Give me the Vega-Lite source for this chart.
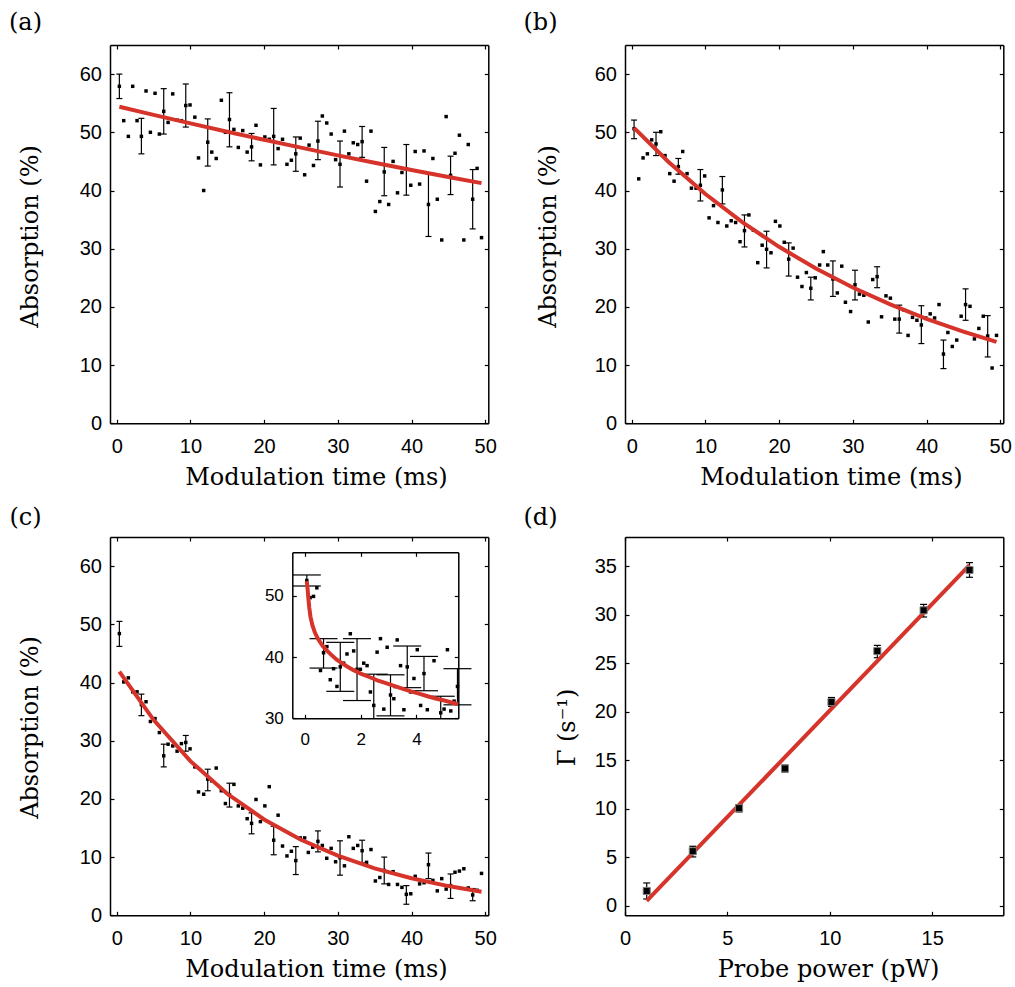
{
"$schema": "https://vega.github.io/schema/vega-lite/v6.json",
"width": 1015, "height": 987, "autosize": "none", "padding": 0, "background": "white",
"config": {
 "view": {"stroke": null},
 "axis": {"grid": false, "domainColor": "black", "tickColor": "black", "labelColor": "black", "titleColor": "black", "labelFont": "Liberation Sans", "labelFontSize": 20, "titleFont": "DejaVu Serif", "titleFontSize": 24, "titleFontWeight": "normal", "tickSize": -4, "domainWidth": 1.5, "tickWidth": 1.2, "labelFlush": false, "labelOverlap": false},
 "axisX": {"labelPadding": 17.3},
 "axisY": {"labelPadding": 12.5}
},
"resolve": {"scale": {"x": "independent", "y": "independent"}, "axis": {"x": "independent", "y": "independent"}},
"datasets": {
 "a": [
  {"t":0.36,"v":57.9,"lo":55.8,"hi":60.0},{"t":0.95,"v":52.0},{"t":1.58,"v":49.3},{"t":2.17,"v":57.9},{"t":2.76,"v":52.0},
  {"t":3.35,"v":49.3,"lo":46.3,"hi":52.4},{"t":3.98,"v":57.1},{"t":4.57,"v":50.0},{"t":5.2,"v":56.7},{"t":5.79,"v":49.7},
  {"t":6.38,"v":53.6,"lo":49.7,"hi":57.5},{"t":6.97,"v":51.7},{"t":7.6,"v":56.6},{"t":8.19,"v":52.1},{"t":8.78,"v":52.0},
  {"t":9.37,"v":54.6,"lo":50.9,"hi":58.3},{"t":9.95,"v":54.7},{"t":10.6,"v":52.6},{"t":11.1,"v":45.6},{"t":11.8,"v":40.0},
  {"t":12.35,"v":48.3,"lo":44.2,"hi":52.3},{"t":12.9,"v":46.6},{"t":13.5,"v":45.5},{"t":14.2,"v":55.5},{"t":14.75,"v":50.0},
  {"t":15.3,"v":52.2,"lo":47.5,"hi":56.8},{"t":15.9,"v":50.5},{"t":16.5,"v":47.4},{"t":17.1,"v":50.3},{"t":17.7,"v":46.6},
  {"t":18.3,"v":47.5,"lo":45.1,"hi":49.8},{"t":18.9,"v":51.2},{"t":19.5,"v":44.4},{"t":20.1,"v":49.2},{"t":20.7,"v":48.8},
  {"t":21.3,"v":49.3,"lo":44.4,"hi":54.1},{"t":21.9,"v":47.2},{"t":22.5,"v":48.8},{"t":23.1,"v":44.5},{"t":23.7,"v":45.2},
  {"t":24.3,"v":46.3,"lo":43.3,"hi":49.2},{"t":24.9,"v":49.0},{"t":25.5,"v":42.7},{"t":26.1,"v":47.8},{"t":26.7,"v":44.3},
  {"t":27.3,"v":48.5,"lo":45.3,"hi":51.9},{"t":27.9,"v":52.8},{"t":28.5,"v":51.6},{"t":29.1,"v":49.7},{"t":29.7,"v":45.3},
  {"t":30.3,"v":44.5,"lo":40.6,"hi":48.5},{"t":30.9,"v":50.2},{"t":31.5,"v":46.3},{"t":32.1,"v":48.2},{"t":32.7,"v":47.9},
  {"t":33.3,"v":48.4,"lo":45.7,"hi":51.0},{"t":33.9,"v":41.6},{"t":34.5,"v":50.2},{"t":35.1,"v":36.4},{"t":35.7,"v":38.1},
  {"t":36.3,"v":43.2,"lo":39.1,"hi":47.4},{"t":36.9,"v":37.6},{"t":37.5,"v":45.0},{"t":38.1,"v":39.6},{"t":38.7,"v":43.1},
  {"t":39.3,"v":43.7,"lo":39.2,"hi":47.9},{"t":39.9,"v":40.9},{"t":40.5,"v":46.7},{"t":41.1,"v":41.1},{"t":41.7,"v":46.8},
  {"t":42.3,"v":37.6,"lo":32.1,"hi":42.9},{"t":42.9,"v":45.5},{"t":43.5,"v":38.5},{"t":44.1,"v":31.5},{"t":44.7,"v":52.7},
  {"t":45.3,"v":42.6,"lo":39.3,"hi":45.9},{"t":45.9,"v":46.4},{"t":46.5,"v":49.5},{"t":47.1,"v":31.5},{"t":47.7,"v":47.9},
  {"t":48.3,"v":38.5,"lo":33.4,"hi":43.6},{"t":48.9,"v":43.8},{"t":49.5,"v":31.9}
 ],
 "afit": [{"t":0.36,"v":54.39},{"t":5,"v":52.99},{"t":10,"v":51.53},{"t":15,"v":50.10},{"t":20,"v":48.71},{"t":25,"v":47.36},{"t":30,"v":46.04},{"t":35,"v":44.77},{"t":40,"v":43.53},{"t":45,"v":42.32},{"t":49.5,"v":41.27}],
 "b": [
  {"t":0.32,"v":50.6,"lo":48.9,"hi":52.1},{"t":0.95,"v":42.0},{"t":1.54,"v":45.6},{"t":2.13,"v":46.3},{"t":2.71,"v":48.7},
  {"t":3.3,"v":48.0,"lo":46.0,"hi":50.0},{"t":3.94,"v":50.1},{"t":4.52,"v":46.0},{"t":5.16,"v":42.9},{"t":5.75,"v":41.6},
  {"t":6.33,"v":44.1,"lo":42.8,"hi":45.5},{"t":6.92,"v":46.7},{"t":7.51,"v":42.9},{"t":8.1,"v":40.4},{"t":8.73,"v":40.4},
  {"t":9.32,"v":40.9,"lo":38.2,"hi":43.6},{"t":9.9,"v":42.5},{"t":10.5,"v":35.3},{"t":11.1,"v":37.4},{"t":11.7,"v":34.5},
  {"t":12.3,"v":40.1,"lo":37.7,"hi":42.4},{"t":12.9,"v":33.9},{"t":13.5,"v":34.8},{"t":14.1,"v":34.5},{"t":14.7,"v":31.2},
  {"t":15.3,"v":33.1,"lo":30.3,"hi":35.8},{"t":15.9,"v":35.8},{"t":16.5,"v":33.2},{"t":17.1,"v":27.6},{"t":17.7,"v":30.6},
  {"t":18.3,"v":29.9,"lo":26.7,"hi":33.0},{"t":18.9,"v":29.3},{"t":19.5,"v":34.7},{"t":20.1,"v":33.9},{"t":20.7,"v":31.1},
  {"t":21.3,"v":28.2,"lo":25.3,"hi":31.0},{"t":21.9,"v":30.1},{"t":22.5,"v":25.1},{"t":23.1,"v":23.5},{"t":23.7,"v":25.9},
  {"t":24.3,"v":23.2,"lo":21.2,"hi":25.1},{"t":24.9,"v":25.0},{"t":25.5,"v":27.2},{"t":26.0,"v":29.5},{"t":26.6,"v":27.2},
  {"t":27.3,"v":24.8,"lo":21.8,"hi":27.9},{"t":27.9,"v":22.4},{"t":28.5,"v":27.0},{"t":29.0,"v":20.8},{"t":29.7,"v":19.2},
  {"t":30.3,"v":23.8,"lo":21.2,"hi":26.3},{"t":30.9,"v":22.2},{"t":31.5,"v":22.0},{"t":32.1,"v":17.4},{"t":32.7,"v":24.7},
  {"t":33.3,"v":25.2,"lo":23.3,"hi":26.9},{"t":33.9,"v":18.3},{"t":34.5,"v":21.9},{"t":35.1,"v":21.5},{"t":35.7,"v":17.9},
  {"t":36.3,"v":17.9,"lo":15.5,"hi":20.3},{"t":36.9,"v":19.5},{"t":37.5,"v":15.1},{"t":38.1,"v":18.2},{"t":38.7,"v":17.7},
  {"t":39.3,"v":16.9,"lo":13.7,"hi":20.2},{"t":39.9,"v":18.1},{"t":40.5,"v":18.8},{"t":41.1,"v":18.1},{"t":41.7,"v":20.4},
  {"t":42.3,"v":11.9,"lo":9.4,"hi":14.3},{"t":42.9,"v":15.6},{"t":43.5,"v":13.2},{"t":44.1,"v":14.3},{"t":44.7,"v":18.4},
  {"t":45.3,"v":20.4,"lo":17.7,"hi":23.1},{"t":45.9,"v":20.1},{"t":46.5,"v":14.5},{"t":47.1,"v":16.3},{"t":47.7,"v":18.4},
  {"t":48.3,"v":15.0,"lo":11.4,"hi":18.5},{"t":48.9,"v":9.5},{"t":49.5,"v":15.1}
 ],
 "bfit": [{"t":0.32,"v":50.77},{"t":5,"v":44.91},{"t":10,"v":39.40},{"t":15,"v":34.56},{"t":20,"v":30.32},{"t":25,"v":26.59},{"t":30,"v":23.33},{"t":35,"v":20.47},{"t":40,"v":17.95},{"t":45,"v":15.75},{"t":49.5,"v":14.00}],
 "c": [
  {"t":0.36,"v":48.4,"lo":46.2,"hi":50.5},{"t":0.95,"v":40.1},{"t":1.58,"v":40.8},{"t":2.17,"v":38.4},{"t":2.76,"v":38.4},
  {"t":3.35,"v":36.2,"lo":34.3,"hi":38.0},{"t":3.98,"v":36.7},{"t":4.57,"v":33.3},{"t":5.2,"v":33.8},{"t":5.79,"v":31.4},
  {"t":6.38,"v":27.4,"lo":25.5,"hi":29.4},{"t":6.97,"v":29.4},{"t":7.6,"v":29.1},{"t":8.19,"v":28.2},{"t":8.78,"v":29.5},
  {"t":9.37,"v":29.7,"lo":28.2,"hi":30.9},{"t":9.95,"v":28.6},{"t":10.6,"v":25.5},{"t":11.1,"v":21.2},{"t":11.8,"v":20.8},
  {"t":12.35,"v":23.4,"lo":21.4,"hi":25.1},{"t":12.9,"v":23.1},{"t":13.5,"v":25.3},{"t":14.2,"v":21.4},{"t":14.75,"v":19.2},
  {"t":15.3,"v":20.7,"lo":18.6,"hi":22.7},{"t":15.9,"v":22.5},{"t":16.5,"v":18.8},{"t":17.1,"v":18.4},{"t":17.7,"v":16.6},
  {"t":18.3,"v":15.8,"lo":14.0,"hi":17.6},{"t":18.9,"v":19.9},{"t":19.5,"v":16.1},{"t":20.1,"v":18.8},{"t":20.7,"v":22.1},
  {"t":21.3,"v":12.9,"lo":10.4,"hi":15.3},{"t":21.9,"v":17.2},{"t":22.5,"v":11.9},{"t":23.1,"v":10.2},{"t":23.7,"v":11.0},
  {"t":24.3,"v":9.4,"lo":7.0,"hi":11.8},{"t":24.9,"v":13.3},{"t":25.5,"v":13.3},{"t":26.0,"v":10.8},{"t":26.6,"v":11.7},
  {"t":27.3,"v":12.7,"lo":10.9,"hi":14.5},{"t":27.9,"v":12.0},{"t":28.5,"v":9.8},{"t":29.1,"v":11.5},{"t":29.7,"v":9.2},
  {"t":30.3,"v":9.9,"lo":6.9,"hi":12.8},{"t":30.9,"v":8.5},{"t":31.5,"v":13.5},{"t":32.1,"v":11.5},{"t":32.7,"v":12.0},
  {"t":33.3,"v":11.1,"lo":9.0,"hi":12.9},{"t":33.9,"v":9.1},{"t":34.5,"v":11.3},{"t":35.1,"v":5.9},{"t":35.7,"v":6.5},
  {"t":36.3,"v":7.7,"lo":5.4,"hi":10.0},{"t":36.9,"v":5.3},{"t":37.5,"v":7.5},{"t":38.1,"v":5.3},{"t":38.7,"v":4.8},
  {"t":39.3,"v":3.6,"lo":1.9,"hi":5.1},{"t":39.9,"v":3.7},{"t":40.5,"v":6.7},{"t":41.1,"v":5.4},{"t":41.7,"v":5.6},
  {"t":42.3,"v":8.7,"lo":6.3,"hi":10.7},{"t":42.9,"v":6.0},{"t":43.5,"v":4.2},{"t":44.1,"v":6.3},{"t":44.7,"v":4.5},
  {"t":45.3,"v":5.1,"lo":2.9,"hi":7.1},{"t":45.9,"v":7.4},{"t":46.5,"v":7.6},{"t":47.1,"v":8.0},{"t":47.7,"v":4.7},
  {"t":48.3,"v":3.5,"lo":2.5,"hi":4.6},{"t":48.9,"v":4.3},{"t":49.5,"v":7.2}
 ],
 "cfit": [{"t":0.36,"v":41.88},{"t":5,"v":33.59},{"t":10,"v":26.49},{"t":15,"v":20.88},{"t":20,"v":16.47},{"t":25,"v":12.98},{"t":30,"v":10.24},{"t":35,"v":8.07},{"t":40,"v":6.36},{"t":45,"v":5.02},{"t":49.5,"v":4.05}],
 "ins": [
  {"t":0.07,"v":52.5,"lo":51.6,"hi":53.4},{"t":0.19,"v":49.7},{"t":0.31,"v":49.9},{"t":0.43,"v":51.3},{"t":0.56,"v":37.8},
  {"t":0.67,"v":40.7,"lo":38.2,"hi":43.0},{"t":0.79,"v":41.7},{"t":0.91,"v":36.3},{"t":1.03,"v":38.1},{"t":1.15,"v":35.2},
  {"t":1.27,"v":38.4,"lo":34.4,"hi":42.4},{"t":1.39,"v":39.0},{"t":1.51,"v":40.5},{"t":1.63,"v":43.8},{"t":1.75,"v":41.0},
  {"t":1.87,"v":38.0,"lo":32.9,"hi":43.0},{"t":1.99,"v":38.0},{"t":2.11,"v":39.0},{"t":2.23,"v":38.6},{"t":2.35,"v":34.3},
  {"t":2.47,"v":32.1,"lo":27.0,"hi":37.2},{"t":2.59,"v":40.8},{"t":2.71,"v":43.0},{"t":2.83,"v":31.5},{"t":2.95,"v":41.6},
  {"t":3.07,"v":33.8,"lo":30.4,"hi":37.1},{"t":3.19,"v":33.2},{"t":3.31,"v":42.8},{"t":3.43,"v":38.6},{"t":3.55,"v":31.4},
  {"t":3.67,"v":38.4,"lo":35.0,"hi":41.8},{"t":3.79,"v":34.3},{"t":3.91,"v":36.5},{"t":4.03,"v":41.2},{"t":4.15,"v":32.1},
  {"t":4.27,"v":37.3,"lo":34.5,"hi":40.1},{"t":4.39,"v":31.4},{"t":4.63,"v":39.4},
  {"t":4.87,"v":30.9,"lo":28.0,"hi":33.6},{"t":4.99,"v":31.5},{"t":5.11,"v":41.2},{"t":5.23,"v":31.2},{"t":5.35,"v":32.8},
  {"t":5.47,"v":35.2,"lo":32.2,"hi":38.1}
 ],
 "insfit": [{"t":0.07,"v":52.4},{"t":0.1,"v":51.0},{"t":0.13,"v":49.4},{"t":0.16,"v":48.0},{"t":0.2,"v":46.6},{"t":0.27,"v":45.2},{"t":0.36,"v":44.0},{"t":0.48,"v":42.9},{"t":0.64,"v":41.8},{"t":0.8,"v":41.0},{"t":0.94,"v":40.4},{"t":1.13,"v":39.6},{"t":1.3,"v":39.1},{"t":1.5,"v":38.5},{"t":1.73,"v":37.9},{"t":2.0,"v":37.3},{"t":2.33,"v":36.7},{"t":2.6,"v":36.2},{"t":2.93,"v":35.7},{"t":3.2,"v":35.3},{"t":3.52,"v":34.8},{"t":3.8,"v":34.4},{"t":4.12,"v":34.0},{"t":4.4,"v":33.6},{"t":4.72,"v":33.2},{"t":5.0,"v":32.9},{"t":5.49,"v":32.3}],
 "d": [
  {"t":1.06,"v":1.55,"lo":0.72,"hi":2.37},{"t":3.31,"v":5.64,"lo":5.05,"hi":6.15},{"t":5.57,"v":10.07,"lo":9.69,"hi":10.44},{"t":7.81,"v":14.16,"lo":13.8,"hi":14.5},
  {"t":10.08,"v":21.0,"lo":20.55,"hi":21.47},{"t":12.32,"v":26.25,"lo":25.57,"hi":26.84},{"t":14.58,"v":30.45,"lo":29.76,"hi":31.06},{"t":16.82,"v":34.6,"lo":33.85,"hi":35.36}
 ],
 "dfit": [{"t":1.06,"v":0.52},{"t":16.82,"v":35.1}]
},
"layer": [
 {"data": {"name": "a"}, "transform": [{"filter": "isValid(datum.hi)"}], "mark": {"type": "rule", "color": "black", "strokeWidth": 1.2},
  "encoding": {"x": {"field": "t", "type": "quantitative", "scale": {"domain": [-0.91, 50.42], "range": [110, 488.3], "nice": false, "zero": false}, "axis": {"orient": "top", "offset": -45, "values": [0,10,20,30,40,50], "labels": false, "title": "(a)", "titleX": 25, "titleY": -23, "titleAlign": "center", "titleBaseline": "middle", "titleAngle": 0}},
   "y": {"field": "lo", "type": "quantitative", "scale": {"domain": [0, 65], "range": [423.3, 45], "nice": false, "zero": false}, "axis": {"orient": "right", "offset": -526.7, "values": [0,10,20,30,40,50,60], "labels": false, "title": null}},
   "y2": {"field": "hi"}}},
 {"data": {"name": "a"}, "transform": [{"filter": "isValid(datum.hi)"}], "mark": {"type": "tick", "orient": "horizontal", "size": 6, "thickness": 1.2, "color": "black", "opacity": 1},
  "encoding": {"x": {"field": "t", "type": "quantitative", "scale": {"domain": [-0.91, 50.42], "range": [110, 488.3], "nice": false, "zero": false}, "axis": null},
   "y": {"field": "hi", "type": "quantitative", "scale": {"domain": [0, 65], "range": [423.3, 45], "nice": false, "zero": false}, "axis": null}}},
 {"data": {"name": "a"}, "transform": [{"filter": "isValid(datum.lo)"}], "mark": {"type": "tick", "orient": "horizontal", "size": 6, "thickness": 1.2, "color": "black", "opacity": 1},
  "encoding": {"x": {"field": "t", "type": "quantitative", "scale": {"domain": [-0.91, 50.42], "range": [110, 488.3], "nice": false, "zero": false}, "axis": null},
   "y": {"field": "lo", "type": "quantitative", "scale": {"domain": [0, 65], "range": [423.3, 45], "nice": false, "zero": false}, "axis": null}}},
 {"data": {"name": "a"}, "mark": {"type": "square", "size": 12, "color": "black", "opacity": 1},
  "encoding": {"x": {"field": "t", "type": "quantitative", "scale": {"domain": [-0.91, 50.42], "range": [110, 488.3], "nice": false, "zero": false}, "axis": {"orient": "bottom", "offset": -563.7, "values": [0,10,20,30,40,50], "title": "Modulation time (ms)", "titleX": 316, "titleY": 61, "titleAlign": "center", "titleBaseline": "alphabetic", "titleAngle": 0}},
   "y": {"field": "v", "type": "quantitative", "scale": {"domain": [0, 65], "range": [423.3, 45], "nice": false, "zero": false}, "axis": {"orient": "left", "offset": -110, "values": [0,10,20,30,40,50,60], "title": "Absorption (%)", "titleX": -80, "titleY": 236, "titleAngle": 270, "titleAlign": "center", "titleBaseline": "middle"}}}},
 {"data": {"name": "afit"}, "mark": {"type": "line", "color": "#d6332a", "strokeWidth": 4},
  "encoding": {"x": {"field": "t", "type": "quantitative", "scale": {"domain": [-0.91, 50.42], "range": [110, 488.3], "nice": false, "zero": false}, "axis": null},
   "y": {"field": "v", "type": "quantitative", "scale": {"domain": [0, 65], "range": [423.3, 45], "nice": false, "zero": false}, "axis": null}}},

 {"data": {"name": "b"}, "transform": [{"filter": "isValid(datum.hi)"}], "mark": {"type": "rule", "color": "black", "strokeWidth": 1.2},
  "encoding": {"x": {"field": "t", "type": "quantitative", "scale": {"domain": [-0.91, 50.42], "range": [625, 1003.3], "nice": false, "zero": false}, "axis": {"orient": "top", "offset": -45, "values": [0,10,20,30,40,50], "labels": false, "title": "(b)", "titleX": 540, "titleY": -23, "titleAlign": "center", "titleBaseline": "middle", "titleAngle": 0}},
   "y": {"field": "lo", "type": "quantitative", "scale": {"domain": [0, 65], "range": [423.3, 45], "nice": false, "zero": false}, "axis": {"orient": "right", "offset": -11.7, "values": [0,10,20,30,40,50,60], "labels": false, "title": null}},
   "y2": {"field": "hi"}}},
 {"data": {"name": "b"}, "transform": [{"filter": "isValid(datum.hi)"}], "mark": {"type": "tick", "orient": "horizontal", "size": 6, "thickness": 1.2, "color": "black", "opacity": 1},
  "encoding": {"x": {"field": "t", "type": "quantitative", "scale": {"domain": [-0.91, 50.42], "range": [625, 1003.3], "nice": false, "zero": false}, "axis": null},
   "y": {"field": "hi", "type": "quantitative", "scale": {"domain": [0, 65], "range": [423.3, 45], "nice": false, "zero": false}, "axis": null}}},
 {"data": {"name": "b"}, "transform": [{"filter": "isValid(datum.lo)"}], "mark": {"type": "tick", "orient": "horizontal", "size": 6, "thickness": 1.2, "color": "black", "opacity": 1},
  "encoding": {"x": {"field": "t", "type": "quantitative", "scale": {"domain": [-0.91, 50.42], "range": [625, 1003.3], "nice": false, "zero": false}, "axis": null},
   "y": {"field": "lo", "type": "quantitative", "scale": {"domain": [0, 65], "range": [423.3, 45], "nice": false, "zero": false}, "axis": null}}},
 {"data": {"name": "b"}, "mark": {"type": "square", "size": 12, "color": "black", "opacity": 1},
  "encoding": {"x": {"field": "t", "type": "quantitative", "scale": {"domain": [-0.91, 50.42], "range": [625, 1003.3], "nice": false, "zero": false}, "axis": {"orient": "bottom", "offset": -563.7, "values": [0,10,20,30,40,50], "title": "Modulation time (ms)", "titleX": 831, "titleY": 61, "titleAlign": "center", "titleBaseline": "alphabetic", "titleAngle": 0}},
   "y": {"field": "v", "type": "quantitative", "scale": {"domain": [0, 65], "range": [423.3, 45], "nice": false, "zero": false}, "axis": {"orient": "left", "offset": -625, "values": [0,10,20,30,40,50,60], "title": "Absorption (%)", "titleX": -77, "titleY": 236, "titleAngle": 270, "titleAlign": "center", "titleBaseline": "middle"}}}},
 {"data": {"name": "bfit"}, "mark": {"type": "line", "color": "#d6332a", "strokeWidth": 4},
  "encoding": {"x": {"field": "t", "type": "quantitative", "scale": {"domain": [-0.91, 50.42], "range": [625, 1003.3], "nice": false, "zero": false}, "axis": null},
   "y": {"field": "v", "type": "quantitative", "scale": {"domain": [0, 65], "range": [423.3, 45], "nice": false, "zero": false}, "axis": null}}},

 {"data": {"name": "c"}, "transform": [{"filter": "isValid(datum.hi)"}], "mark": {"type": "rule", "color": "black", "strokeWidth": 1.2},
  "encoding": {"x": {"field": "t", "type": "quantitative", "scale": {"domain": [-0.91, 50.42], "range": [110, 488.3], "nice": false, "zero": false}, "axis": {"orient": "top", "offset": -537, "values": [0,10,20,30,40,50], "labels": false, "title": "(c)", "titleX": 25, "titleY": -20, "titleAlign": "center", "titleBaseline": "middle", "titleAngle": 0}},
   "y": {"field": "lo", "type": "quantitative", "scale": {"domain": [0, 65], "range": [915.3, 537], "nice": false, "zero": false}, "axis": {"orient": "right", "offset": -526.7, "values": [0,10,20,30,40,50,60], "labels": false, "title": null}},
   "y2": {"field": "hi"}}},
 {"data": {"name": "c"}, "transform": [{"filter": "isValid(datum.hi)"}], "mark": {"type": "tick", "orient": "horizontal", "size": 6, "thickness": 1.2, "color": "black", "opacity": 1},
  "encoding": {"x": {"field": "t", "type": "quantitative", "scale": {"domain": [-0.91, 50.42], "range": [110, 488.3], "nice": false, "zero": false}, "axis": null},
   "y": {"field": "hi", "type": "quantitative", "scale": {"domain": [0, 65], "range": [915.3, 537], "nice": false, "zero": false}, "axis": null}}},
 {"data": {"name": "c"}, "transform": [{"filter": "isValid(datum.lo)"}], "mark": {"type": "tick", "orient": "horizontal", "size": 6, "thickness": 1.2, "color": "black", "opacity": 1},
  "encoding": {"x": {"field": "t", "type": "quantitative", "scale": {"domain": [-0.91, 50.42], "range": [110, 488.3], "nice": false, "zero": false}, "axis": null},
   "y": {"field": "lo", "type": "quantitative", "scale": {"domain": [0, 65], "range": [915.3, 537], "nice": false, "zero": false}, "axis": null}}},
 {"data": {"name": "c"}, "mark": {"type": "square", "size": 12, "color": "black", "opacity": 1},
  "encoding": {"x": {"field": "t", "type": "quantitative", "scale": {"domain": [-0.91, 50.42], "range": [110, 488.3], "nice": false, "zero": false}, "axis": {"orient": "bottom", "offset": -71.7, "values": [0,10,20,30,40,50], "title": "Modulation time (ms)", "titleX": 316, "titleY": 61, "titleAlign": "center", "titleBaseline": "alphabetic", "titleAngle": 0}},
   "y": {"field": "v", "type": "quantitative", "scale": {"domain": [0, 65], "range": [915.3, 537], "nice": false, "zero": false}, "axis": {"orient": "left", "offset": -110, "values": [0,10,20,30,40,50,60], "title": "Absorption (%)", "titleX": -80, "titleY": 727, "titleAngle": 270, "titleAlign": "center", "titleBaseline": "middle"}}}},
 {"data": {"name": "cfit"}, "mark": {"type": "line", "color": "#d6332a", "strokeWidth": 4},
  "encoding": {"x": {"field": "t", "type": "quantitative", "scale": {"domain": [-0.91, 50.42], "range": [110, 488.3], "nice": false, "zero": false}, "axis": null},
   "y": {"field": "v", "type": "quantitative", "scale": {"domain": [0, 65], "range": [915.3, 537], "nice": false, "zero": false}, "axis": null}}},

 {"data": {"name": "ins"}, "transform": [{"filter": "isValid(datum.hi)"}], "mark": {"type": "rule", "color": "black", "strokeWidth": 1.2},
  "encoding": {"x": {"field": "t", "type": "quantitative", "scale": {"domain": [-0.45, 5.5], "range": [292.3, 458.3], "nice": false, "zero": false}, "axis": {"orient": "top", "offset": -552.3, "values": [0,2,4], "labels": false, "title": null}},
   "y": {"field": "lo", "type": "quantitative", "scale": {"domain": [30, 57.1], "range": [718.3, 552.3], "nice": false, "zero": false, "clamp": true}, "axis": {"orient": "right", "offset": -556.7, "values": [30,40,50], "labels": false, "title": null}},
   "y2": {"field": "hi"}}},
 {"data": {"name": "ins"}, "transform": [{"filter": "isValid(datum.hi)"}], "mark": {"type": "tick", "orient": "horizontal", "size": 28, "thickness": 1.2, "color": "black", "opacity": 1},
  "encoding": {"x": {"field": "t", "type": "quantitative", "scale": {"domain": [-0.45, 5.5], "range": [292.3, 458.3], "nice": false, "zero": false}, "axis": null},
   "y": {"field": "hi", "type": "quantitative", "scale": {"domain": [30, 57.1], "range": [718.3, 552.3], "nice": false, "zero": false, "clamp": true}, "axis": null}}},
 {"data": {"name": "ins"}, "transform": [{"filter": "isValid(datum.lo) && datum.lo >= 30"}], "mark": {"type": "tick", "orient": "horizontal", "size": 28, "thickness": 1.2, "color": "black", "opacity": 1},
  "encoding": {"x": {"field": "t", "type": "quantitative", "scale": {"domain": [-0.45, 5.5], "range": [292.3, 458.3], "nice": false, "zero": false}, "axis": null},
   "y": {"field": "lo", "type": "quantitative", "scale": {"domain": [30, 57.1], "range": [718.3, 552.3], "nice": false, "zero": false, "clamp": true}, "axis": null}}},
 {"data": {"name": "ins"}, "mark": {"type": "square", "size": 12, "color": "black", "opacity": 1},
  "encoding": {"x": {"field": "t", "type": "quantitative", "scale": {"domain": [-0.45, 5.5], "range": [292.3, 458.3], "nice": false, "zero": false}, "axis": {"orient": "bottom", "offset": -268.7, "values": [0,2,4], "title": null, "labelFontSize": 17, "labelPadding": 17.5}},
   "y": {"field": "v", "type": "quantitative", "scale": {"domain": [30, 57.1], "range": [718.3, 552.3], "nice": false, "zero": false, "clamp": true}, "axis": {"orient": "left", "offset": -292.3, "values": [30,40,50], "title": null, "labelFontSize": 17, "labelPadding": 13}}}},
 {"data": {"name": "insfit"}, "mark": {"type": "line", "color": "#d6332a", "strokeWidth": 4},
  "encoding": {"x": {"field": "t", "type": "quantitative", "scale": {"domain": [-0.45, 5.5], "range": [292.3, 458.3], "nice": false, "zero": false}, "axis": null},
   "y": {"field": "v", "type": "quantitative", "scale": {"domain": [30, 57.1], "range": [718.3, 552.3], "nice": false, "zero": false, "clamp": true}, "axis": null}}},

 {"data": {"name": "d"}, "mark": {"type": "rule", "color": "black", "strokeWidth": 1.2},
  "encoding": {"x": {"field": "t", "type": "quantitative", "scale": {"domain": [0, 18.47], "range": [625, 1003.3], "nice": false, "zero": false}, "axis": {"orient": "top", "offset": -537, "values": [0,5,10,15], "labels": false, "title": "(d)", "titleX": 540, "titleY": -20, "titleAlign": "center", "titleBaseline": "middle", "titleAngle": 0}},
   "y": {"field": "lo", "type": "quantitative", "scale": {"domain": [-0.96, 38.0], "range": [915.3, 537], "nice": false, "zero": false}, "axis": {"orient": "right", "offset": -11.7, "values": [0,5,10,15,20,25,30,35], "labels": false, "title": null}},
   "y2": {"field": "hi"}}},
 {"data": {"name": "d"}, "mark": {"type": "tick", "orient": "horizontal", "size": 7, "thickness": 1.2, "color": "black", "opacity": 1},
  "encoding": {"x": {"field": "t", "type": "quantitative", "scale": {"domain": [0, 18.47], "range": [625, 1003.3], "nice": false, "zero": false}, "axis": null},
   "y": {"field": "hi", "type": "quantitative", "scale": {"domain": [-0.96, 38.0], "range": [915.3, 537], "nice": false, "zero": false}, "axis": null}}},
 {"data": {"name": "d"}, "mark": {"type": "tick", "orient": "horizontal", "size": 7, "thickness": 1.2, "color": "black", "opacity": 1},
  "encoding": {"x": {"field": "t", "type": "quantitative", "scale": {"domain": [0, 18.47], "range": [625, 1003.3], "nice": false, "zero": false}, "axis": null},
   "y": {"field": "lo", "type": "quantitative", "scale": {"domain": [-0.96, 38.0], "range": [915.3, 537], "nice": false, "zero": false}, "axis": null}}},
 {"data": {"name": "dfit"}, "mark": {"type": "line", "color": "#d6332a", "strokeWidth": 4},
  "encoding": {"x": {"field": "t", "type": "quantitative", "scale": {"domain": [0, 18.47], "range": [625, 1003.3], "nice": false, "zero": false}, "axis": null},
   "y": {"field": "v", "type": "quantitative", "scale": {"domain": [-0.96, 38.0], "range": [915.3, 537], "nice": false, "zero": false}, "axis": null}}},
 {"data": {"name": "d"}, "mark": {"type": "square", "size": 50, "color": "black", "opacity": 1, "stroke": "#808080", "strokeWidth": 1},
  "encoding": {"x": {"field": "t", "type": "quantitative", "scale": {"domain": [0, 18.47], "range": [625, 1003.3], "nice": false, "zero": false}, "axis": {"orient": "bottom", "offset": -71.7, "values": [0,5,10,15], "title": "Probe power (pW)", "titleX": 828, "titleY": 61, "titleAlign": "center", "titleBaseline": "alphabetic", "titleAngle": 0}},
   "y": {"field": "v", "type": "quantitative", "scale": {"domain": [-0.96, 38.0], "range": [915.3, 537], "nice": false, "zero": false}, "axis": {"orient": "left", "offset": -625, "values": [0,5,10,15,20,25,30,35], "title": "Γ (s⁻¹)", "titleX": -58, "titleY": 727, "titleAngle": 270, "titleAlign": "center", "titleBaseline": "middle"}}}}
]
}
